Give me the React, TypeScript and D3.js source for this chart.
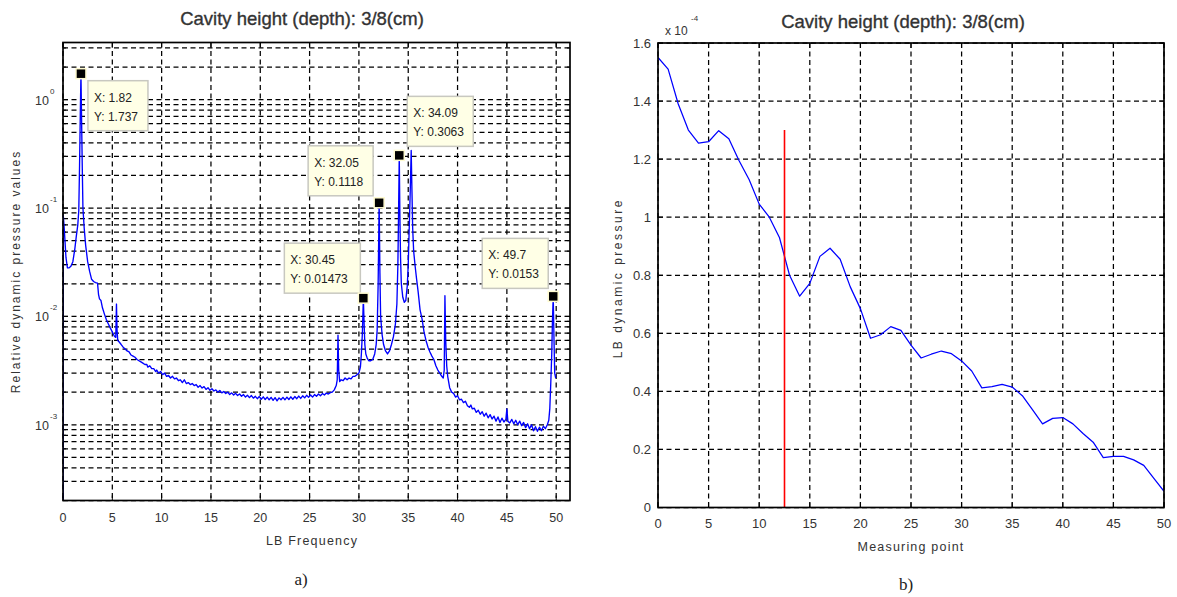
import React from 'react';
import * as d3 from 'd3';

const W = 1177;
const H = 597;

// ---- Panel a): relative dynamic pressure spectrum over LB frequency ----
const spectrumLow: [number, number][] = [
  [0, 0.00005], [0.03, 0.085], [0.1, 0.07], [0.2, 0.05], [0.3, 0.035], [0.45, 0.028],
  [0.6, 0.028], [0.8, 0.029], [1.0, 0.032], [1.2, 0.042], [1.35, 0.055], [1.5, 0.07],
  [1.6, 0.095], [1.68, 0.25], [1.75, 0.7], [1.82, 1.737], [1.88, 0.7], [1.95, 0.25],
  [2.02, 0.1], [2.15, 0.065], [2.3, 0.045], [2.5, 0.032], [2.7, 0.026], [2.9, 0.022],
  [3.1, 0.021], [3.3, 0.0205], [3.5, 0.0203], [3.6, 0.016], [3.7, 0.0145], [3.85, 0.014],
  [4.0, 0.012], [4.2, 0.0105], [4.4, 0.0093], [4.6, 0.0085], [4.8, 0.0078], [5.0, 0.0072],
  [5.2, 0.0066], [5.35, 0.0064], [5.42, 0.013], [5.48, 0.0075], [5.55, 0.006],
];

const spectrumMid: [number, number][] = [
  [5.7, 0.0058], [5.9, 0.0055], [6.1, 0.0052], [6.3, 0.005], [6.5, 0.0048], [6.7, 0.0047],
  [6.9, 0.0044], [7.1, 0.0043], [7.3, 0.0042], [7.5, 0.004], [7.7, 0.0039], [7.9, 0.0038],
  [8.1, 0.0037], [8.3, 0.0036], [8.5, 0.0036], [8.6, 0.0034], [8.8, 0.0035], [9.0, 0.0033],
  [9.2, 0.0033], [9.4, 0.0031], [9.5, 0.0032], [9.7, 0.003], [9.9, 0.0031], [10.1, 0.0029],
  [10.3, 0.003], [10.5, 0.0028], [10.7, 0.00285], [10.9, 0.0027], [11.1, 0.0028], [11.3, 0.00265],
  [11.5, 0.0027], [11.7, 0.00255], [11.9, 0.0026], [12.1, 0.00245], [12.3, 0.0026], [12.5, 0.0024],
  [12.7, 0.00245], [12.9, 0.00235], [13.1, 0.0024], [13.3, 0.0023], [13.5, 0.00235], [13.7, 0.00222],
  [13.9, 0.0023], [14.1, 0.00218], [14.3, 0.00225], [14.5, 0.00212], [14.7, 0.0022], [14.9, 0.00208],
  [15.1, 0.00215], [15.3, 0.00205], [15.5, 0.0021], [15.7, 0.002], [15.9, 0.00207], [16.1, 0.00197],
  [16.3, 0.00203], [16.5, 0.00194], [16.7, 0.002], [16.9, 0.0019], [17.1, 0.00197], [17.3, 0.00188],
  [17.5, 0.00195], [17.7, 0.00186], [17.9, 0.00192], [18.1, 0.00183], [18.3, 0.0019], [18.5, 0.0018],
  [18.7, 0.00187], [18.9, 0.00178], [19.1, 0.00186], [19.3, 0.00176], [19.5, 0.00183], [19.7, 0.00174],
  [19.9, 0.00182], [20.1, 0.00172], [20.3, 0.00181], [20.5, 0.00171], [20.7, 0.0018], [20.9, 0.0017],
  [21.1, 0.00179], [21.3, 0.00168], [21.5, 0.00178], [21.7, 0.00166], [21.9, 0.00177], [22.1, 0.0017],
  [22.3, 0.00179], [22.5, 0.0017], [22.7, 0.0018], [22.9, 0.00171], [23.1, 0.00181], [23.3, 0.00172],
  [23.5, 0.00182], [23.7, 0.00174], [23.9, 0.00184], [24.1, 0.00175], [24.3, 0.00185], [24.5, 0.00177],
  [24.7, 0.00187], [24.9, 0.00179], [25.1, 0.00188], [25.3, 0.0018], [25.5, 0.0019], [25.7, 0.00183],
  [25.9, 0.00192], [26.1, 0.00185], [26.3, 0.00194], [26.5, 0.00188], [26.7, 0.00196], [26.9, 0.00192],
  [27.1, 0.00198], [27.3, 0.002], [27.5, 0.0021], [27.7, 0.0023], [27.8, 0.0026], [27.88, 0.0067],
  [27.95, 0.0032], [28.05, 0.0025],
];

const spectrumPeaks: [number, number][] = [
  [28.2, 0.0026], [28.4, 0.00255], [28.6, 0.0027], [28.8, 0.0026], [29.0, 0.0027], [29.2, 0.00265],
  [29.4, 0.0028], [29.6, 0.0028], [29.8, 0.0029], [30.0, 0.003], [30.15, 0.0034], [30.25, 0.0045],
  [30.35, 0.007], [30.45, 0.01473], [30.52, 0.009], [30.6, 0.0055], [30.7, 0.0045], [30.85, 0.0041],
  [31.0, 0.0039], [31.2, 0.0039], [31.4, 0.004], [31.6, 0.0045], [31.75, 0.0055], [31.85, 0.0075],
  [31.95, 0.02], [32.05, 0.1118], [32.13, 0.025], [32.2, 0.01], [32.35, 0.0068], [32.5, 0.0055],
  [32.7, 0.0048], [32.9, 0.0045], [33.1, 0.0048], [33.3, 0.0055], [33.5, 0.0065], [33.7, 0.0085],
  [33.85, 0.013], [33.95, 0.03], [34.02, 0.09], [34.09, 0.3063], [34.15, 0.09], [34.22, 0.035],
  [34.3, 0.02], [34.45, 0.015], [34.6, 0.0135], [34.75, 0.014], [34.9, 0.019], [35.0, 0.03],
  [35.1, 0.065], [35.2, 0.14], [35.3, 0.34], [35.38, 0.14], [35.45, 0.065], [35.55, 0.04],
  [35.7, 0.029], [35.85, 0.022], [36.0, 0.017], [36.2, 0.0115], [36.4, 0.0095], [36.6, 0.0072],
  [36.8, 0.006], [37.0, 0.0052], [37.2, 0.0047], [37.4, 0.0043], [37.6, 0.004], [37.8, 0.0035],
  [38.0, 0.0032], [38.2, 0.003], [38.4, 0.0028], [38.55, 0.0027], [38.65, 0.0032], [38.72, 0.0155],
  [38.8, 0.006], [38.9, 0.0035], [39.0, 0.0028],
];

const spectrumHigh: [number, number][] = [
  [39.2, 0.0022], [39.4, 0.002], [39.6, 0.00195], [39.8, 0.0018], [40.0, 0.00185], [40.2, 0.0017],
  [40.4, 0.00172], [40.6, 0.0016], [40.8, 0.00165], [41.0, 0.0015], [41.2, 0.00145], [41.35, 0.00152],
  [41.5, 0.0014], [41.7, 0.00142], [41.9, 0.0013], [42.1, 0.00136], [42.3, 0.00125], [42.5, 0.00132],
  [42.7, 0.0012], [42.9, 0.00128], [43.1, 0.00116], [43.3, 0.00124], [43.5, 0.00113], [43.7, 0.0012],
  [43.9, 0.00108], [44.1, 0.00118], [44.3, 0.00105], [44.5, 0.00115], [44.7, 0.00106], [44.9, 0.00112],
  [45.0, 0.0014], [45.1, 0.00108], [45.3, 0.00104], [45.5, 0.00112], [45.7, 0.00102], [45.9, 0.0011],
  [46.1, 0.001], [46.3, 0.00108], [46.5, 0.00098], [46.7, 0.00105], [46.9, 0.00094], [47.1, 0.00102],
  [47.3, 0.00092], [47.5, 0.001], [47.7, 0.00088], [47.9, 0.00096], [48.1, 0.00087], [48.3, 0.00095],
  [48.5, 0.00088], [48.7, 0.00097], [48.9, 0.00092], [49.1, 0.001], [49.25, 0.0011], [49.35, 0.0014],
  [49.45, 0.0024], [49.55, 0.0045], [49.62, 0.009], [49.7, 0.0153], [49.78, 0.006], [49.85, 0.003],
  [49.95, 0.0027],
];

// Data tips placed on the spectral peaks
const peakTips = [
  { x: 1.82, y: 1.737 },
  { x: 30.45, y: 0.01473 },
  { x: 32.05, y: 0.1118 },
  { x: 34.09, y: 0.3063 },
  { x: 49.7, y: 0.0153 },
];
const tipXLabels = ['X: 1.82', 'X: 30.45', 'X: 32.05', 'X: 34.09', 'X: 49.7'];
const tipYLabels = ['Y: 1.737', 'Y: 0.01473', 'Y: 0.1118', 'Y: 0.3063', 'Y: 0.0153'];
// box offsets from the marker (layout only)
const tipLayout = [
  { dx: 7, dy: 7, w: 60 },
  { dx: -79, dy: -55, w: 76 },
  { dx: -71, dy: -57, w: 65 },
  { dx: 8, dy: -59, w: 66 },
  { dx: -71, dy: -58, w: 66 },
];

const freqTicks = [0, 5, 10, 15, 20, 25, 30, 35, 40, 45, 50];
const decadeTicks = [1e-3, 1e-2, 1e-1, 1];
const decadeExponents = ['-3', '-2', '-1', '0'];

// ---- Panel b): LB dynamic pressure along the measuring points ----
const pressureValues = [
  1.55, 1.51, 1.39, 1.3, 1.255, 1.26, 1.298, 1.27, 1.195, 1.13,
  1.045, 1.0, 0.93, 0.8, 0.728, 0.772, 0.865, 0.893, 0.855, 0.76,
  0.685, 0.583, 0.595, 0.623, 0.61, 0.559, 0.515, 0.528, 0.539, 0.53,
  0.505, 0.47, 0.412, 0.416, 0.424, 0.415, 0.385, 0.337, 0.288, 0.307,
  0.31, 0.288, 0.255, 0.225, 0.172, 0.176, 0.176, 0.164, 0.145, 0.1,
  0.056,
];
const pointTicks = [0, 5, 10, 15, 20, 25, 30, 35, 40, 45, 50];
const pressureTicks = [0, 0.2, 0.4, 0.6, 0.8, 1, 1.2, 1.4, 1.6];
const pressureTickLabels = ['0', '0.2', '0.4', '0.6', '0.8', '1', '1.2', '1.4', '1.6'];
const cursorPoint = 12.5;
const cursorTop = 1.3;

const FONT = 'Liberation Sans, Arial, Helvetica, sans-serif';
const TEXT = '#333';

export default function App() {
  // Panel a scales
  const L = { x0: 63, x1: 570, y0: 42.5, y1: 500.5 };
  const xL = d3.scaleLinear().domain([0, 51.4]).range([L.x0, L.x1]);
  const yL = d3.scaleLog().domain([2e-4, 3.37]).range([L.y1, L.y0]);

  // Panel b scales
  const R = { x0: 658, x1: 1164, y0: 43, y1: 507.5 };
  const xR = d3.scaleLinear().domain([0, 50]).range([R.x0, R.x1]);
  const yR = d3.scaleLinear().domain([0, 1.6]).range([R.y1, R.y0]);

  const spectrum = [...spectrumLow, ...spectrumMid, ...spectrumPeaks, ...spectrumHigh];
  const specLine = d3
    .line<[number, number]>()
    .x((d) => xL(d[0]))
    .y((d) => yL(d[1]));

  const pressureLine = d3
    .line<number>()
    .x((_, i) => xR(i))
    .y((d) => yR(d))
    .curve(d3.curveLinear);

  // minor log grid positions 2..9 of each decade within the domain
  const logGrid: number[] = [];
  [1e-4, 1e-3, 1e-2, 1e-1, 1].forEach((dec) => {
    for (let m = 1; m <= 9; m++) {
      const v = dec * m;
      if (v >= 2e-4 && v <= 3.37) logGrid.push(v);
    }
  });

  const dash = '5,3.5';
  const gridW = 1.25;
  const titleProps = {
    fontFamily: FONT,
    fontSize: 18.5,
    fill: TEXT,
    stroke: TEXT,
    strokeWidth: 0.35,
  };

  return (
    <svg
      width={W}
      height={H}
      viewBox={`0 0 ${W} ${H}`}
      style={{ position: 'absolute', left: 0, top: 0, background: '#fff' }}
    >
      <defs>
        <clipPath id="clipL">
          <rect x={L.x0} y={L.y0} width={L.x1 - L.x0} height={L.y1 - L.y0} />
        </clipPath>
        <clipPath id="clipR">
          <rect x={R.x0} y={R.y0} width={R.x1 - R.x0} height={R.y1 - R.y0} />
        </clipPath>
      </defs>
      <rect x={0} y={0} width={W} height={H} fill="#fff" />

      {/* ===== Panel a ===== */}
      <text x={302} y={25} textAnchor="middle" {...titleProps}>
        Cavity height (depth): 3/8(cm)
      </text>

      {/* grid */}
      <g stroke="#000" strokeWidth={gridW} strokeDasharray={dash}>
        {freqTicks.map((t) => (
          <line key={'gx' + t} x1={xL(t)} x2={xL(t)} y1={L.y0} y2={L.y1} />
        ))}
        {logGrid.map((v) => (
          <line key={'gy' + v} x1={L.x0} x2={L.x1} y1={yL(v)} y2={yL(v)} />
        ))}
      </g>

      {/* ticks */}
      <g stroke="#000" strokeWidth={1}>
        {freqTicks.map((t) => (
          <g key={'tx' + t}>
            <line x1={xL(t)} x2={xL(t)} y1={L.y1} y2={L.y1 - 5} />
            <line x1={xL(t)} x2={xL(t)} y1={L.y0} y2={L.y0 + 5} />
          </g>
        ))}
        {logGrid.map((v) => {
          const major = decadeTicks.includes(v);
          const len = major ? 5 : 3;
          return (
            <g key={'ty' + v}>
              <line x1={L.x0} x2={L.x0 + len} y1={yL(v)} y2={yL(v)} />
              <line x1={L.x1} x2={L.x1 - len} y1={yL(v)} y2={yL(v)} />
            </g>
          );
        })}
      </g>

      {/* spectrum */}
      <path
        d={specLine(spectrum) || ''}
        fill="none"
        stroke="#0000ff"
        strokeWidth={1.35}
        strokeLinejoin="round"
        clipPath="url(#clipL)"
      />

      {/* frame */}
      <rect
        x={L.x0}
        y={L.y0}
        width={L.x1 - L.x0}
        height={L.y1 - L.y0}
        fill="none"
        stroke="#000"
        strokeWidth={1.7}
      />

      {/* x tick labels */}
      {freqTicks.map((t) => (
        <text
          key={'lx' + t}
          x={xL(t)}
          y={522}
          textAnchor="middle"
          fontFamily={FONT}
          fontSize={12.5}
          fill={TEXT}
        >
          {t}
        </text>
      ))}
      {/* y tick labels 10^n */}
      {decadeTicks.map((v, i) => (
        <g key={'ly' + v}>
          <text x={49} y={yL(v) + 5} textAnchor="end" fontFamily={FONT} fontSize={12.5} fill={TEXT}>
            10
          </text>
          <text x={50} y={yL(v) - 6} fontFamily={FONT} fontSize={8} fill={TEXT}>
            {decadeExponents[i]}
          </text>
        </g>
      ))}

      <text
        x={312}
        y={545}
        textAnchor="middle"
        fontFamily={FONT}
        fontSize={12.5}
        letterSpacing={1.2}
        fill={TEXT}
      >
        LB Frequency
      </text>
      <text
        transform={`translate(20, ${(L.y0 + L.y1) / 2}) rotate(-90)`}
        textAnchor="middle"
        fontFamily={FONT}
        fontSize={12}
        letterSpacing={2}
        fill={TEXT}
      >
        Relative dynamic pressure values
      </text>
      <text x={301} y={585} textAnchor="middle" fontFamily="Liberation Serif, Times New Roman, serif" fontSize={17} fill="#222">
        a)
      </text>

      {/* data tips */}
      {peakTips.map((p, i) => {
        const mx = xL(p.x);
        const my = yL(p.y);
        const lay = tipLayout[i];
        const bx = mx + lay.dx;
        const by = my + lay.dy;
        return (
          <g key={'tip' + i}>
            <rect x={bx} y={by} width={lay.w} height={50} fill="#ffffe6" stroke="#c8c8c0" strokeWidth={1.5} />
            <text x={bx + 6} y={by + 21} fontFamily={FONT} fontSize={12} fill="#222">
              {tipXLabels[i]}
            </text>
            <text x={bx + 6} y={by + 40} fontFamily={FONT} fontSize={12} fill="#222">
              {tipYLabels[i]}
            </text>
            <rect x={mx - 5} y={my - 5} width={10} height={10} fill="#000" stroke="#fffbd0" strokeWidth={1.5} />
          </g>
        );
      })}

      {/* ===== Panel b ===== */}
      <text x={903} y={28} textAnchor="middle" {...titleProps}>
        Cavity height (depth): 3/8(cm)
      </text>
      <text x={665} y={35} fontFamily={FONT} fontSize={12} fill={TEXT}>
        x 10
      </text>
      <text x={691} y={21} fontFamily={FONT} fontSize={8} fill={TEXT}>
        -4
      </text>

      <g stroke="#000" strokeWidth={gridW} strokeDasharray={dash}>
        {pointTicks.map((t) => (
          <line key={'rgx' + t} x1={xR(t)} x2={xR(t)} y1={R.y0} y2={R.y1} />
        ))}
        {pressureTicks.map((t) => (
          <line key={'rgy' + t} x1={R.x0} x2={R.x1} y1={yR(t)} y2={yR(t)} />
        ))}
      </g>
      <g stroke="#000" strokeWidth={1}>
        {pointTicks.map((t) => (
          <g key={'rtx' + t}>
            <line x1={xR(t)} x2={xR(t)} y1={R.y1} y2={R.y1 - 5} />
            <line x1={xR(t)} x2={xR(t)} y1={R.y0} y2={R.y0 + 5} />
          </g>
        ))}
        {pressureTicks.map((t) => (
          <g key={'rty' + t}>
            <line x1={R.x0} x2={R.x0 + 5} y1={yR(t)} y2={yR(t)} />
            <line x1={R.x1} x2={R.x1 - 5} y1={yR(t)} y2={yR(t)} />
          </g>
        ))}
      </g>

      <path
        d={pressureLine(pressureValues) || ''}
        fill="none"
        stroke="#0000ff"
        strokeWidth={1.25}
        strokeLinejoin="round"
        clipPath="url(#clipR)"
      />
      <line
        x1={xR(cursorPoint)}
        x2={xR(cursorPoint)}
        y1={yR(0)}
        y2={yR(cursorTop)}
        stroke="#ff0000"
        strokeWidth={1.6}
      />

      <rect
        x={R.x0}
        y={R.y0}
        width={R.x1 - R.x0}
        height={R.y1 - R.y0}
        fill="none"
        stroke="#000"
        strokeWidth={1.7}
      />

      {pointTicks.map((t) => (
        <text
          key={'rlx' + t}
          x={xR(t)}
          y={528}
          textAnchor="middle"
          fontFamily={FONT}
          fontSize={13}
          fill={TEXT}
        >
          {t}
        </text>
      ))}
      {pressureTicks.map((t, i) => (
        <text
          key={'rly' + t}
          x={651}
          y={yR(t) + 4.5}
          textAnchor="end"
          fontFamily={FONT}
          fontSize={13}
          fill={TEXT}
        >
          {pressureTickLabels[i]}
        </text>
      ))}
      <text
        x={911}
        y={551}
        textAnchor="middle"
        fontFamily={FONT}
        fontSize={12.5}
        letterSpacing={1.2}
        fill={TEXT}
      >
        Measuring point
      </text>
      <text
        transform={`translate(622, ${(R.y0 + R.y1) / 2 + 3}) rotate(-90)`}
        textAnchor="middle"
        fontFamily={FONT}
        fontSize={12}
        letterSpacing={2.5}
        fill={TEXT}
      >
        LB dynamic pressure
      </text>
      <text x={906} y={590} textAnchor="middle" fontFamily="Liberation Serif, Times New Roman, serif" fontSize={17} fill="#222">
        b)
      </text>
    </svg>
  );
}
